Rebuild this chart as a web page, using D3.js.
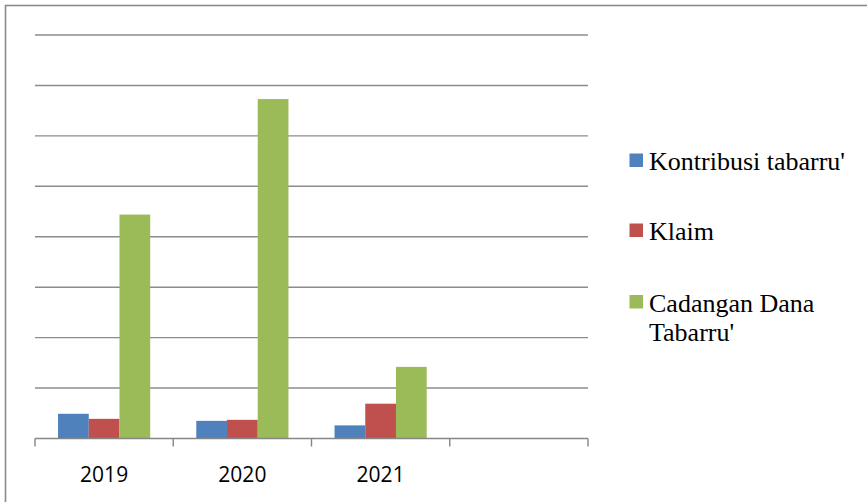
<!DOCTYPE html>
<html>
<head>
<meta charset="utf-8">
<script src="https://cdn.jsdelivr.net/npm/d3@7"></script>
<style>
  html, body { margin: 0; padding: 0; background: #fff; }
  svg { display: block; }
  .legend-text { font-family: "Liberation Serif", "Times New Roman", serif; }
  .axis-text { font-family: "Open Sans", "Liberation Sans", Arial, sans-serif; }
</style>
</head>
<body>
<svg id="chart" width="867" height="502"></svg>
<script>
// Categories on the x axis (the fourth slot is left empty)
const categories = ["2019", "2020", "2021", ""];
// Series names and values (in gridline units)
const seriesNames = ["Kontribusi tabarru'", "Klaim", "Cadangan Dana Tabarru'"];
const kontribusi = [0.49, 0.35, 0.26];
const klaim = [0.39, 0.37, 0.69];
const cadangan = [4.44, 6.73, 1.42];
const yTicks = [0, 1, 2, 3, 4, 5, 6, 7, 8];
const colors = ["#4f81bd", "#c0504d", "#9bbb59"];

const seriesValues = [kontribusi, klaim, cadangan];

const svg = d3.select("#chart");

// Outer frame
svg.append("rect")
  .attr("x", 5.5).attr("y", 5.5)
  .attr("width", 900).attr("height", 600)
  .attr("fill", "none")
  .attr("stroke", "#8a8a8a")
  .attr("stroke-width", 1.6);

const plot = { left: 35, right: 588, top: 35, bottom: 438.5 };

const x = d3.scaleBand()
  .domain(categories)
  .range([plot.left, plot.right]);

const y = d3.scaleLinear()
  .domain([0, 8])
  .range([plot.bottom, plot.top]);

// Horizontal gridlines
svg.append("g")
  .selectAll("line")
  .data(yTicks.slice(1))
  .join("line")
  .attr("x1", plot.left).attr("x2", plot.right)
  .attr("y1", d => y(d)).attr("y2", d => y(d))
  .attr("stroke", "#8c8c8c")
  .attr("stroke-width", 1.4);

// Bars: each band holds three bars with a 150% gap
const barW = x.bandwidth() / 4.5;
const rows = [];
seriesValues.forEach((vals, si) => {
  vals.forEach((v, ci) => rows.push({ si, cat: categories[ci], v }));
});

svg.append("g")
  .selectAll("rect")
  .data(rows)
  .join("rect")
  .attr("x", d => x(d.cat) + barW * 0.75 + d.si * barW)
  .attr("y", d => y(d.v))
  .attr("width", barW)
  .attr("height", d => y(0) - y(d.v))
  .attr("fill", d => colors[d.si]);

// X axis with ticks at band boundaries
const axis = svg.append("g");
axis.append("line")
  .attr("x1", plot.left).attr("x2", plot.right)
  .attr("y1", plot.bottom).attr("y2", plot.bottom)
  .attr("stroke", "#868686").attr("stroke-width", 1.4);

const boundaries = categories.map(c => x(c)).concat([plot.right]);
axis.selectAll("line.tick")
  .data(boundaries)
  .join("line")
  .attr("class", "tick")
  .attr("x1", d => d).attr("x2", d => d)
  .attr("y1", plot.bottom).attr("y2", plot.bottom + 8)
  .attr("stroke", "#868686").attr("stroke-width", 1.4);

axis.selectAll("text")
  .data(categories.filter(c => c !== ""))
  .join("text")
  .attr("class", "axis-text")
  .attr("x", d => x(d) + x.bandwidth() / 2)
  .attr("y", 482)
  .attr("text-anchor", "middle")
  .attr("font-size", 21)
  .attr("fill", "#000")
  .text(d => d);

// Legend
const legendItems = [
  { lines: ["Kontribusi tabarru'"], baseline: 170 },
  { lines: ["Klaim"], baseline: 240 },
  { lines: ["Cadangan Dana", "Tabarru'"], baseline: 311.5 }
];
const legend = svg.append("g");
legendItems.forEach((item, i) => {
  legend.append("rect")
    .attr("x", 629.5).attr("y", item.baseline - 16.5)
    .attr("width", 13.5).attr("height", 13.5)
    .attr("fill", colors[i]);
  const t = legend.append("text")
    .attr("class", "legend-text")
    .attr("x", 649)
    .attr("y", item.baseline)
    .attr("font-size", 26)
    .attr("fill", "#000");
  item.lines.forEach((ln, j) => {
    t.append("tspan").attr("x", 649).attr("dy", j === 0 ? 0 : 29.5).text(ln);
  });
});
</script>
</body>
</html>
